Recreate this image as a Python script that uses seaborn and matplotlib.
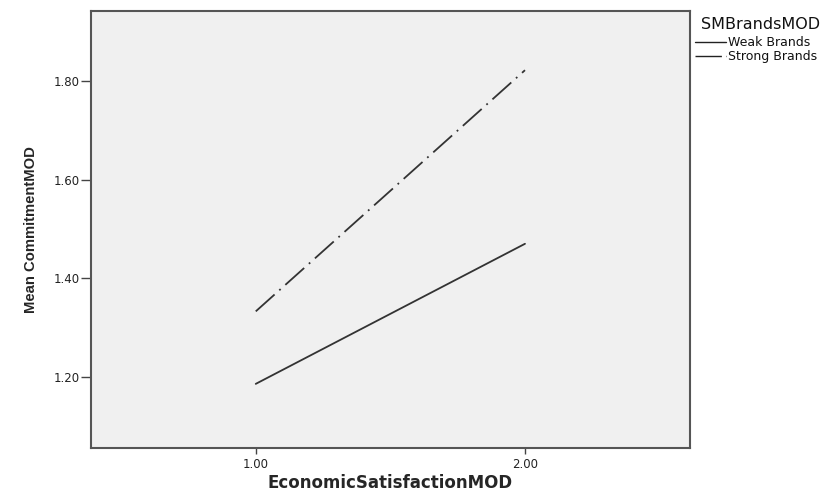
import matplotlib
matplotlib.use("Agg")
import matplotlib.pyplot as plt
import pandas as pd
import seaborn as sns

econ_sat = [1.0, 2.0]
weak_brands = [1.186, 1.470]
strong_brands = [1.333, 1.822]
groups = ["Weak Brands", "Strong Brands"]
y_ticks = [1.20, 1.40, 1.60, 1.80]
x_ticks = [1.00, 2.00]

df = pd.DataFrame({
    "EconomicSatisfactionMOD": econ_sat * 2,
    "CommitmentMOD": weak_brands + strong_brands,
    "SMBrandsMOD": [groups[0]] * 2 + [groups[1]] * 2,
})

sns.set_style("white")
plt.rcParams["font.family"] = ["DejaVu Sans"]
plt.rcParams["text.color"] = "#111111"

fig = plt.figure(figsize=(8.37, 4.93), dpi=100)
ax = fig.add_axes([0.1087, 0.0913, 0.7157, 0.8864])
ax.set_facecolor("#f0f0f0")

line_dashes = {groups[0]: "", groups[1]: (14, 3.5, 1, 3.5)}
sns.lineplot(data=df, x="EconomicSatisfactionMOD", y="CommitmentMOD",
             hue="SMBrandsMOD", style="SMBrandsMOD",
             palette={groups[0]: "#333333", groups[1]: "#333333"},
             dashes=line_dashes, linewidth=1.3, ax=ax, legend=False)

ax.set_xlim(0.388, 2.613)
ax.set_ylim(1.056, 1.942)
ax.set_xticks(x_ticks)
ax.set_xticklabels([f"{v:.2f}" for v in x_ticks], fontsize=8.5)
ax.set_yticks(y_ticks)
ax.set_yticklabels([f"{v:.2f}" for v in y_ticks], fontsize=8.5)
ax.tick_params(direction="out", width=1, color="#444444",
               labelcolor="#222222", left=True, bottom=True)
ax.tick_params(axis="y", length=7, pad=1)
ax.tick_params(axis="x", length=4.5, pad=3)
for sp in ax.spines.values():
    sp.set_color("#555555")
    sp.set_linewidth(1.5)

ax.set_xlabel("EconomicSatisfactionMOD", fontsize=12, fontweight="bold",
              labelpad=2)
ax.set_ylabel("Mean CommitmentMOD", fontsize=10.7, fontweight="bold",
              family=["Liberation Sans", "DejaVu Sans"], labelpad=11)

# legend outside the plot, SPSS style
fig.text(0.837, 0.942, "SMBrandsMOD", fontsize=11.5)
handles = [plt.Line2D([], [], color="#222222", lw=1),
           plt.Line2D([], [], color="#222222", lw=1, dashes=(19, 3, 1, 10))]
fig.legend(handles, groups, loc="upper left", bbox_to_anchor=(0.830, 0.927),
           frameon=False, fontsize=9, handlelength=2.5, handletextpad=0.15,
           labelspacing=0.1, borderaxespad=0, borderpad=0)

fig.savefig("out.png", dpi=100)
